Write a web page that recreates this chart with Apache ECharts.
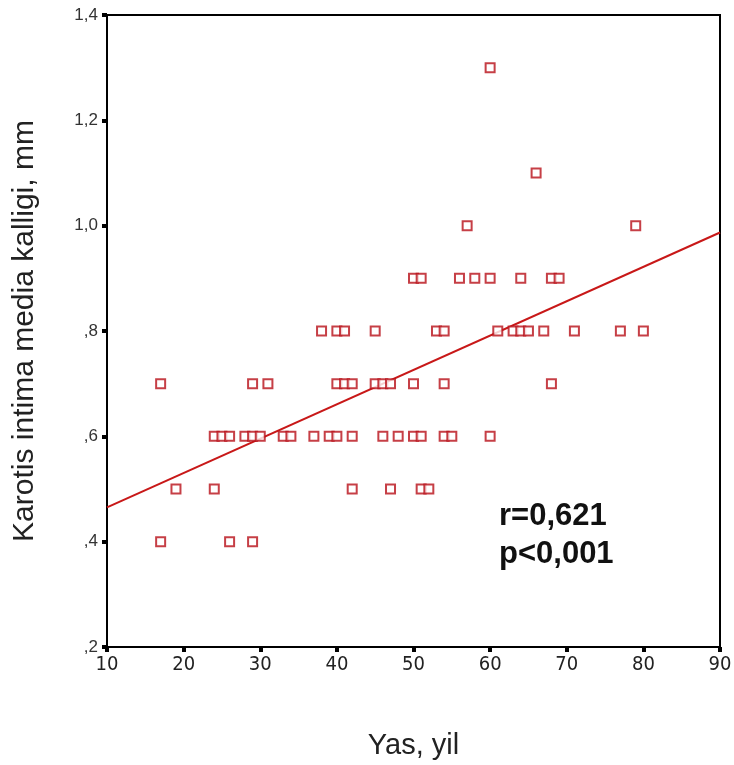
<!DOCTYPE html>
<html><head><meta charset="utf-8">
<script src="https://cdn.jsdelivr.net/npm/echarts@6/dist/echarts.min.js"></script>
<style>html,body{margin:0;padding:0;background:#fff}#c{width:734px;height:765px}</style>
</head><body><div id="c"></div>
<script>
// Age (yil) grouped by IMT value (mm)
const imtLevels = [1.3, 1.1, 1.0, 0.9, 0.8, 0.7, 0.6, 0.5, 0.4];
const agesAt13 = [60];
const agesAt11 = [66];
const agesAt10 = [57, 79];
const agesAt09 = [50, 51, 56, 58, 60, 64, 68, 69];
const agesAt08 = [38, 40, 41, 45, 53, 54, 61, 63, 64, 65, 67, 71, 77, 80];
const agesAt07 = [17, 29, 31, 40, 41, 42, 45, 46, 47, 50, 54, 68];
const agesAt06 = [24, 25, 26, 28, 29, 30, 33, 34, 37, 39, 40, 42, 46, 48, 50, 51, 54, 55, 60];
const agesAt05 = [19, 24, 42, 47, 51, 52];
const agesAt04 = [17, 26, 29];
const fitX = [10, 90];
const fitY = [0.465, 0.987];
const xTicks = [10, 20, 30, 40, 50, 60, 70, 80, 90];
const yTicks = [0.2, 0.4, 0.6, 0.8, 1.0, 1.2, 1.4];
const statsText = ['r=0,621', 'p<0,001'];

const groups = [agesAt13, agesAt11, agesAt10, agesAt09, agesAt08, agesAt07, agesAt06, agesAt05, agesAt04];
const points = [];
groups.forEach((ages, i) => ages.forEach(a => points.push([a, imtLevels[i]])));

function fmtY(v) {
  let s = v.toFixed(1).replace('.', ',');
  if (s.startsWith('0')) s = s.slice(1);
  return s;
}

const chart = echarts.init(document.getElementById('c'));
chart.setOption({
  animation: false,
  backgroundColor: '#fff',
  grid: { left: 107, right: 14, top: 15, bottom: 118, outerBoundsMode: 'none', containLabel: false, show: true, borderColor: '#000', borderWidth: 2, backgroundColor: 'transparent' },
  xAxis: {
    type: 'value', min: xTicks[0], max: xTicks[xTicks.length - 1], interval: 10,
    name: 'Yas, yil', nameLocation: 'middle', nameGap: 84,
    nameTextStyle: { fontFamily: 'Liberation Sans, Arial', fontSize: 29, color: '#222' },
    axisLine: { show: true, onZero: false, lineStyle: { color: '#000', width: 2 } },
    axisTick: { show: true, length: 5, lineStyle: { color: '#000', width: 4 } },
    axisLabel: { fontFamily: '"Liberation Sans Narrow", "DejaVu Sans Condensed", Arial', fontSize: 20, color: '#222', margin: 8 },
    splitLine: { show: false }
  },
  yAxis: {
    type: 'value', min: yTicks[0], max: yTicks[yTicks.length - 1], interval: 0.2,
    name: 'Karotis intima media kalligi, mm', nameLocation: 'middle', nameGap: 67,
    nameTextStyle: { fontFamily: 'Liberation Sans, Arial', fontSize: 30, color: '#222' },
    axisLine: { show: true, onZero: false, lineStyle: { color: '#000', width: 2 } },
    axisTick: { show: true, length: 5, lineStyle: { color: '#000', width: 4 } },
    axisLabel: { fontFamily: 'Liberation Sans, Arial', fontSize: 17, color: '#333', margin: 9, formatter: fmtY, verticalAlign: 'middle' },
    splitLine: { show: false }
  },
  series: [
    {
      type: 'line', data: fitX.map((x, i) => [x, fitY[i]]), showSymbol: false, symbol: 'none',
      lineStyle: { color: '#c81818', width: 2 }, z: 2
    },
    {
      type: 'scatter', data: points, symbol: 'rect', symbolSize: 9,
      itemStyle: { color: '#fff', borderColor: '#b80f18', borderWidth: 2 }, z: 3
    }
  ],
  graphic: [
    { type: 'text', left: 499, top: 501, style: { text: statsText[0], font: 'bold 31px "Liberation Sans", Arial', fill: '#111' } },
    { type: 'text', left: 499, top: 539, style: { text: statsText[1], font: 'bold 31px "Liberation Sans", Arial', fill: '#111' } }
  ]
});
</script></body></html>
